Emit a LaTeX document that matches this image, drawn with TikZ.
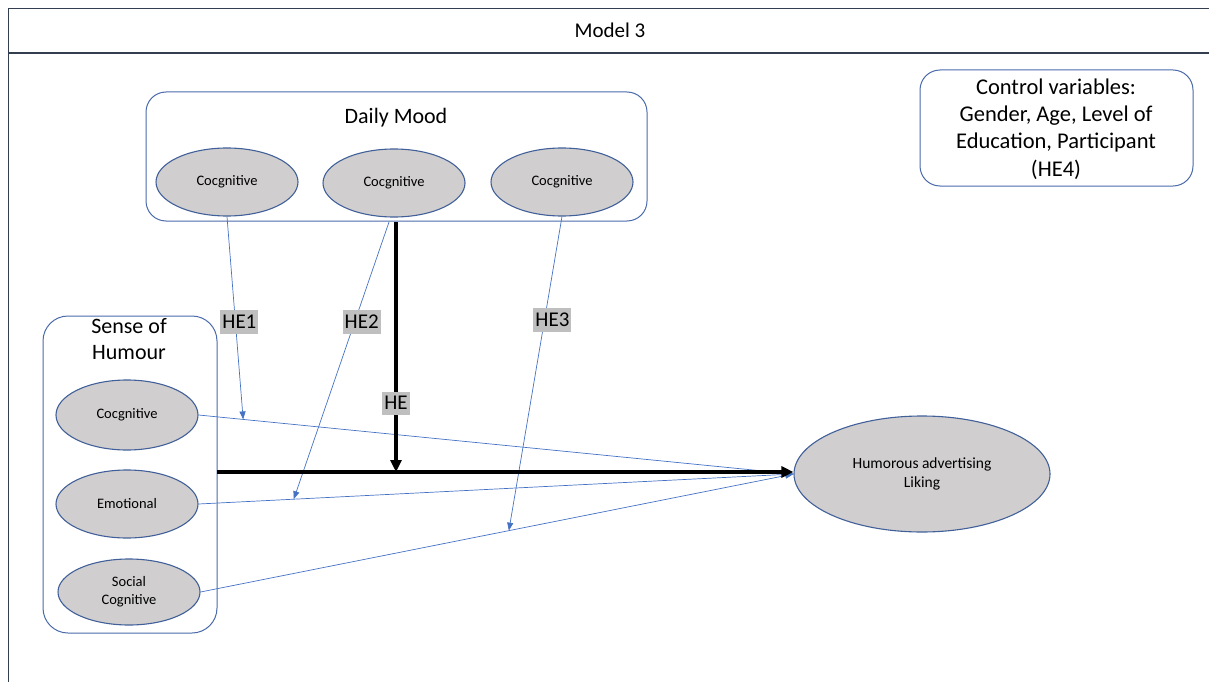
\documentclass[tikz,border=0pt]{standalone}
\usepackage{fontspec}
\setmainfont{Carlito}
\usetikzlibrary{shapes.geometric,arrows.meta,calc}
\definecolor{ellfill}{HTML}{D0CECE}
\definecolor{ellline}{HTML}{41609A}
\definecolor{boxline}{HTML}{4A6AAA}
\definecolor{linkblue}{HTML}{4472C4}
\definecolor{labgray}{HTML}{BFBFBF}
\definecolor{frameline}{HTML}{333F50}
\tikzset{
  fs/.style={font=\fontsize{#1pt}{1.22\dimexpr #1pt\relax}\selectfont},
  ell/.style={ellipse, draw=ellline, line width=1.1pt, fill=ellfill, inner sep=0pt, align=center, fs=14.5},
  grp/.style={draw=boxline, line width=1pt, rounded corners=20pt},
  link/.style={draw=linkblue, line width=0.7pt, -{Triangle[length=8pt,width=6pt]}},
  heavy/.style={draw=black, line width=3.4pt},
  helab/.style={fill=labgray, inner xsep=2pt, inner ysep=5pt, fs=21},
}
\begin{document}
\begin{tikzpicture}[x=1pt,y=-1pt]
\useasboundingbox (0,0) rectangle (1209,682);
% frame
\draw[frameline, line width=0.9pt] (8,682) -- (8,8) -- (1209,8);
\draw[frameline, line width=1.2pt] (8,53) -- (1209,53);
\node[fs=21] (title) at (610,30) {Model 3};

% Daily mood group
\draw[grp] (146,92) rectangle (647,221);
\node[fs=22] (dmtitle) at (396,118) {Daily Mood};
\node[ell, minimum width=142pt, minimum height=68pt] (dm1) at (227,182) {Cocgnitive};
\node[ell, minimum width=142pt, minimum height=68pt] (dm2) at (394,183) {Cocgnitive};
\node[ell, minimum width=142pt, minimum height=68pt] (dm3) at (562,182) {Cocgnitive};

% Sense of humour group
\draw[grp, rounded corners=25pt] (43,316) rectangle (217,633);
\coordinate (shright) at (217,472);
\node[fs=22, align=center] (shtitle) at (129,339) {Sense of\\Humour};
\node[ell, minimum width=142pt, minimum height=70pt] (sh1) at (127,415) {Cocgnitive};
\node[ell, minimum width=142pt, minimum height=68pt] (sh2) at (127,504) {Emotional};
\node[ell, minimum width=142pt, minimum height=66pt] (sh3) at (129,592) {Social\\Cognitive};

% control variables
\draw[grp] (920,70) rectangle (1193,186);
\node[fs=22.5, align=center] (ctrl) at (1056,129) {Control variables:\\Gender, Age, Level of\\Education, Participant\\(HE4)};

% outcome
\node[ell, minimum width=256pt, minimum height=116pt, fs=15.5] (hal) at (922,474) {Humorous advertising\\Liking};

% blue links to outcome
\path[link] (sh1.east) -- (hal.west) coordinate[pos=0.075] (t1);
\path[link] (sh2.east) -- (hal.west) coordinate[pos=0.16] (t2);
\path[link] (sh3.east) -- (hal.west) coordinate[pos=0.52] (t3);

% moderation links
\coordinate (he2s) at (389,222);
\path[link] (dm1.south) -- (t1) node[helab, pos=0.52, xshift=4pt] (he1) {HE1};
\path[link] (he2s) -- (t2) node[helab, pos=0.36, xshift=7pt] (he2) {HE2};
\path[link] (dm3.south) -- (t3) node[helab, pos=0.33, xshift=8pt] (he3) {HE3};

% heavy black paths
\coordinate (hes) at (396,222);
\coordinate (hee) at (396,472);
\draw[heavy, -{Triangle[length=12pt,width=11pt]}] (hes) -- (hee) node[helab, pos=0.725, text=black] (he) {HE};
\draw[heavy, -{Triangle[length=12pt,width=11pt]}] (shright) -- (hal.west |- shright);
\end{tikzpicture}
\end{document}
